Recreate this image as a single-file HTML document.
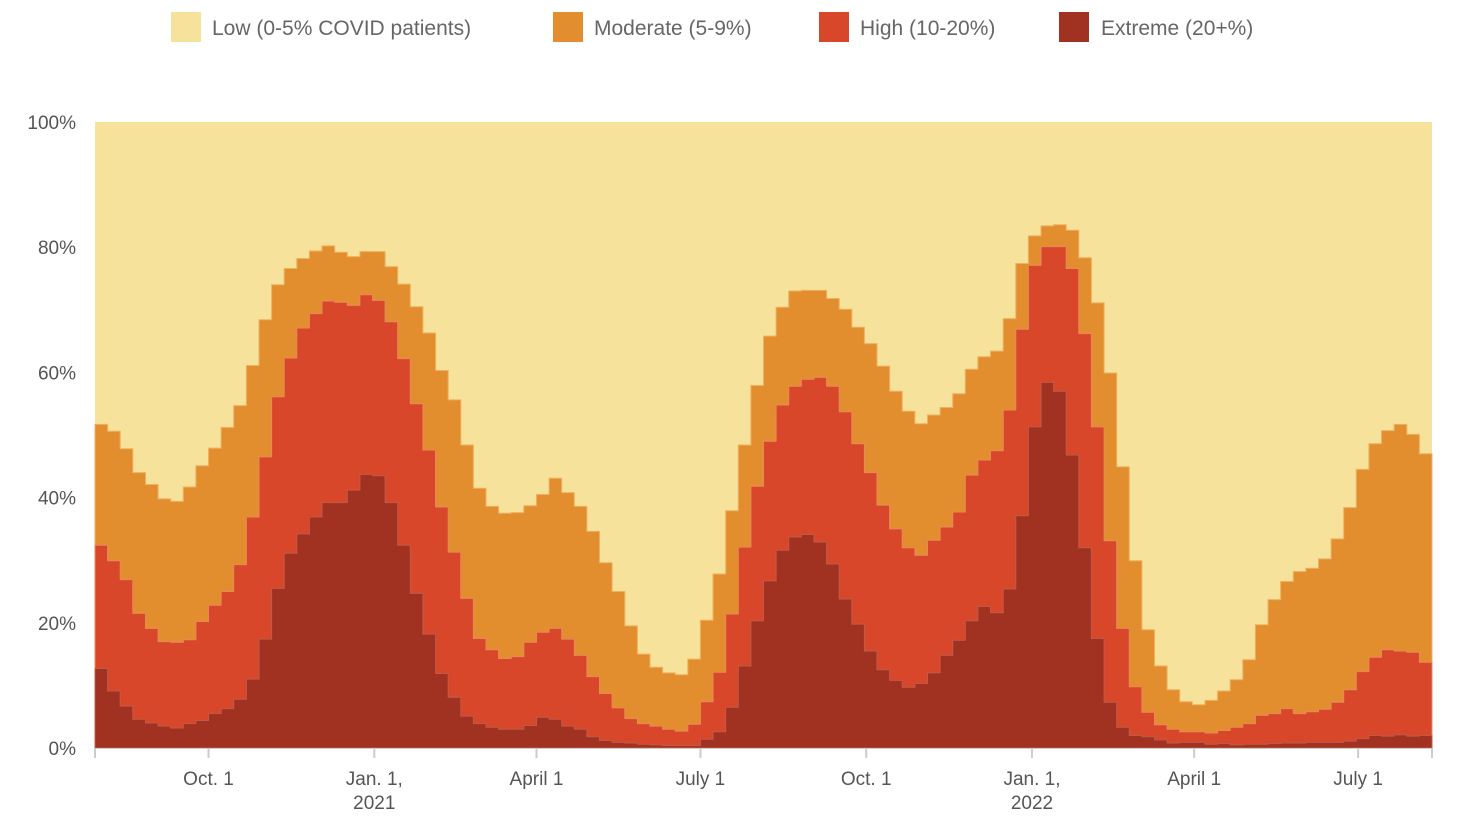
<!DOCTYPE html>
<html><head><meta charset="utf-8"><style>
body{margin:0;background:#fff;font-family:"Liberation Sans",Arial,sans-serif;}
svg{display:block}
</style></head><body>
<svg id="chart" width="1461" height="821" viewBox="0 0 1461 821" xmlns="http://www.w3.org/2000/svg" font-family="Liberation Sans, Arial, sans-serif">
  <g font-size="21" fill="#666">
    <g><rect x="171" y="12" width="30" height="30" fill="#F6E29B"/><text x="212" y="35">Low (0-5% COVID patients)</text></g>
    <g><rect x="553" y="12" width="30" height="30" fill="#E38E2E"/><text x="594" y="35">Moderate (5-9%)</text></g>
    <g><rect x="819" y="12" width="30" height="30" fill="#D8472A"/><text x="860" y="35">High (10-20%)</text></g>
    <g><rect x="1059" y="12" width="30" height="30" fill="#A13221"/><text x="1101" y="35">Extreme (20+%)</text></g>
  </g>
  <g id="plot"></g>
  <g id="yaxis" font-size="19" fill="#555" text-anchor="end"></g>
  <g id="xaxis" font-size="19" fill="#555" text-anchor="middle"></g>
</svg>
<script>
// Share of hospitals at or above each level, weekly (percent)
const atLeastModerate = [51.7,50.6,47.8,44.0,42.1,39.8,39.4,41.7,45.1,47.9,51.2,54.7,61.1,68.4,74.0,76.6,78.2,79.4,80.2,79.2,78.5,79.3,79.3,76.9,74.1,70.5,66.3,60.3,
55.6,48.4,41.5,38.6,37.5,37.6,38.7,40.5,43.1,40.8,38.6,34.6,29.6,25.0,19.5,15.0,12.9,12.0,11.7,14.2,20.4,27.8,37.9,48.4,57.9,65.8,70.4,
73.0,73.1,73.1,71.8,70.1,67.2,64.6,61.0,57.0,53.8,51.8,53.2,54.4,56.6,60.5,62.5,63.4,68.6,77.4,81.8,83.4,83.6,82.7,78.3,71.1,59.9,44.9,
29.9,18.9,13.1,9.3,7.4,6.9,7.6,9.1,10.9,14.1,19.7,23.7,26.6,28.2,28.7,30.2,33.4,38.4,44.5,48.6,50.7,51.7,50.1,47.0];
const atLeastHigh = [32.4,29.9,26.9,21.5,19.1,17.0,16.9,17.3,20.2,22.8,25.0,29.3,36.9,46.5,56.1,62.3,67.1,69.4,71.4,71.2,70.7,72.4,71.5,68.1,62.2,55.0,47.6,38.5,
31.3,23.9,17.5,15.7,14.3,14.6,16.9,18.5,19.1,17.4,14.8,11.4,8.7,6.4,4.7,3.9,3.5,3.0,2.7,3.8,7.4,12.1,21.4,32.1,41.8,49.0,54.8,
57.8,58.9,59.2,57.8,53.7,48.6,44.0,38.8,35.0,32.0,30.8,33.2,35.3,37.7,43.6,46.0,47.5,54.0,66.9,77.1,80.1,80.1,76.6,66.2,51.3,33.1,19.1,
9.8,5.7,3.7,3.0,2.6,2.6,2.4,2.8,3.3,3.9,5.2,5.5,6.3,5.5,5.8,6.2,7.3,9.3,12.2,14.5,15.7,15.5,15.3,13.7];
const extreme = [12.7,9.1,6.7,4.6,4.0,3.5,3.2,3.9,4.4,5.5,6.3,7.8,11.0,17.4,25.5,31.1,34.2,36.9,39.2,39.2,41.2,43.7,43.5,39.2,32.4,24.7,18.2,11.9,
8.1,5.1,3.9,3.3,3.0,3.0,3.6,4.9,4.6,3.5,3.0,1.8,1.2,0.9,0.8,0.6,0.5,0.4,0.4,0.4,1.4,2.6,6.5,13.1,20.3,26.7,31.6,
33.7,34.1,32.9,29.4,23.8,19.8,15.5,12.5,10.8,9.7,10.3,12.0,14.8,17.2,20.3,22.6,21.6,25.4,37.1,51.3,58.4,57.0,46.8,32.0,17.5,7.3,3.3,
2.0,1.8,1.3,0.8,0.9,0.9,0.6,0.7,0.5,0.6,0.6,0.7,0.8,0.8,0.9,0.9,0.9,1.1,1.5,2.0,1.9,2.1,1.9,2.0];
const startDate = "2020-07-30";
const yTicks = [0,20,40,60,80,100];
const yTickLabels = ["0%","20%","40%","60%","80%","100%"];
const xTickDates = ["2020-10-01","2021-01-01","2021-04-01","2021-07-01","2021-10-01","2022-01-01","2022-04-01","2022-07-01"];
const xTickLabels = [["Oct. 1"],["Jan. 1,","2021"],["April 1"],["July 1"],["Oct. 1"],["Jan. 1,","2022"],["April 1"],["July 1"]];

const NS = "http://www.w3.org/2000/svg";
const X0 = 95, X1 = 1432, Y0 = 748, Y1 = 122;
const nWeeks = extreme.length;
const dayMs = 86400000;
const t0 = Date.parse(startDate);
const pxPerDay = (X1 - X0) / (nWeeks * 7);
function xDate(s){ return X0 + (Date.parse(s) - t0) / dayMs * pxPerDay; }
function xWeek(i){ return X0 + i * 7 * pxPerDay; }
function yScale(v){ return Y0 - (v / 100) * (Y0 - Y1); }
function el(tag, attrs){ const e = document.createElementNS(NS, tag); for (const k in attrs) e.setAttribute(k, attrs[k]); return e; }

const plot = document.getElementById('plot');
const bg = el('rect', {x: X0, y: Y1, width: X1 - X0, height: Y0 - Y1, fill: '#F6E29B'});


plot.appendChild(bg);

function stepPath(vals){
  let d = 'M' + X0 + ',' + Y0;
  for (let i = 0; i < vals.length; i++){
    const y = yScale(vals[i]).toFixed(1);
    d += 'L' + xWeek(i).toFixed(1) + ',' + y + 'L' + xWeek(i + 1).toFixed(1) + ',' + y;
  }
  d += 'L' + X1 + ',' + Y0 + 'Z';
  return d;
}
const layers = [
  [atLeastModerate, '#E38E2E', '#F0B060', 'area-moderate'],
  [atLeastHigh, '#D8472A', '#E8885A', 'area-high'],
  [extreme, '#A13221', '#C05A48', 'area-extreme']
];
layers.forEach(([vals, fill, stroke, name]) => {
  const p = el('path', {d: stepPath(vals), fill: fill, stroke: stroke, 'stroke-width': 1});
  
  
  plot.appendChild(p);
});

const yaxis = document.getElementById('yaxis');
yTicks.forEach((v, i) => {
  const t = el('text', {x: 76, y: yScale(v) + 7});
  t.textContent = yTickLabels[i];
  
  
  yaxis.appendChild(t);
});

const xaxis = document.getElementById('xaxis');
const axisLine = el('line', {x1: X0, x2: X1, y1: Y0 + 0.5, y2: Y0 + 0.5, stroke: '#ccc', 'stroke-width': 1});


xaxis.appendChild(axisLine);
[X0, X1].forEach(x => {
  const tk = el('line', {x1: x, x2: x, y1: Y0, y2: Y0 + 10, stroke: '#ccc', 'stroke-width': 2});
  
  
  xaxis.appendChild(tk);
});
xTickDates.forEach((d, i) => {
  const x = xDate(d);
  const tk = el('line', {x1: x, x2: x, y1: Y0, y2: Y0 + 10, stroke: '#ccc', 'stroke-width': 2});
  
  
  xaxis.appendChild(tk);
  xTickLabels[i].forEach((line, j) => {
    const t = el('text', {x: x, y: 785 + j * 24});
    t.textContent = line;
    
    
    xaxis.appendChild(t);
  });
});
</script>
</body></html>
